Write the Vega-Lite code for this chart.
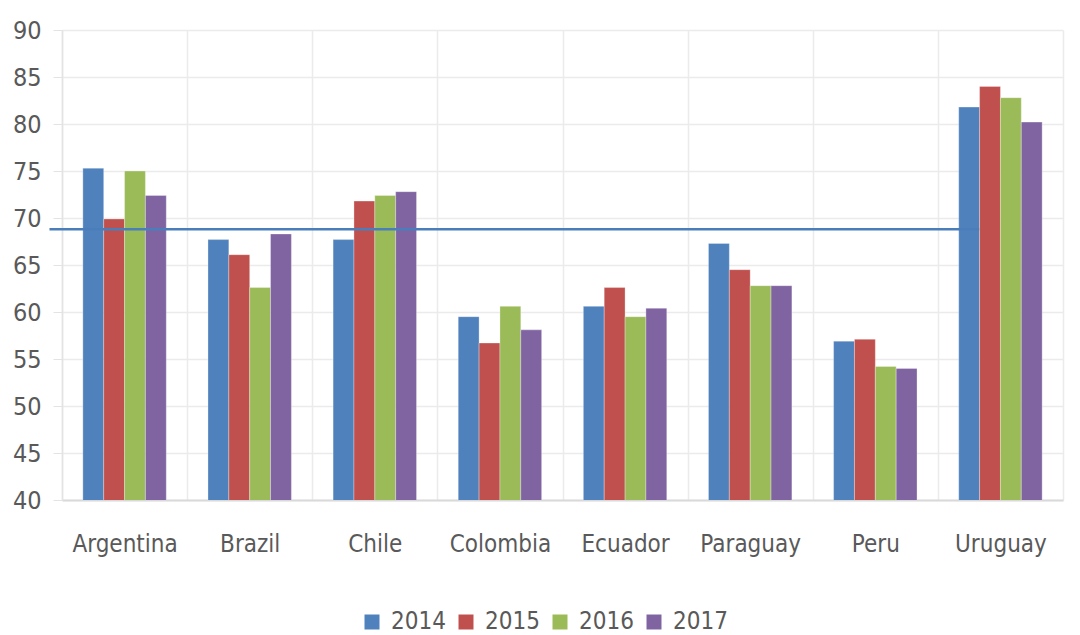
{
  "$schema": "https://vega.github.io/schema/vega-lite/v6.json",
  "width": 1001,
  "height": 470,
  "autosize": "none",
  "padding": {"left": 62, "top": 30, "right": 17, "bottom": 135},
  "background": "white",
  "config": {
    "view": {"stroke": null},
    "font": "DejaVu Sans Condensed",
    "axis": {"labelFont": "DejaVu Sans Condensed", "labelColor": "#595959", "labelFontSize": 24, "gridColor": "#ebebeb", "gridWidth": 1.5, "title": null}
  },
  "datasets": {
    "bars": [
      {"country": "Argentina", "year": "2014", "value": 75.3},
      {"country": "Argentina", "year": "2015", "value": 69.9},
      {"country": "Argentina", "year": "2016", "value": 75.0},
      {"country": "Argentina", "year": "2017", "value": 72.4},
      {"country": "Brazil", "year": "2014", "value": 67.7},
      {"country": "Brazil", "year": "2015", "value": 66.1},
      {"country": "Brazil", "year": "2016", "value": 62.6},
      {"country": "Brazil", "year": "2017", "value": 68.3},
      {"country": "Chile", "year": "2014", "value": 67.7},
      {"country": "Chile", "year": "2015", "value": 71.8},
      {"country": "Chile", "year": "2016", "value": 72.4},
      {"country": "Chile", "year": "2017", "value": 72.8},
      {"country": "Colombia", "year": "2014", "value": 59.5},
      {"country": "Colombia", "year": "2015", "value": 56.7},
      {"country": "Colombia", "year": "2016", "value": 60.6},
      {"country": "Colombia", "year": "2017", "value": 58.1},
      {"country": "Ecuador", "year": "2014", "value": 60.6},
      {"country": "Ecuador", "year": "2015", "value": 62.6},
      {"country": "Ecuador", "year": "2016", "value": 59.5},
      {"country": "Ecuador", "year": "2017", "value": 60.4},
      {"country": "Paraguay", "year": "2014", "value": 67.3},
      {"country": "Paraguay", "year": "2015", "value": 64.5},
      {"country": "Paraguay", "year": "2016", "value": 62.8},
      {"country": "Paraguay", "year": "2017", "value": 62.8},
      {"country": "Peru", "year": "2014", "value": 56.9},
      {"country": "Peru", "year": "2015", "value": 57.1},
      {"country": "Peru", "year": "2016", "value": 54.2},
      {"country": "Peru", "year": "2017", "value": 54.0},
      {"country": "Uruguay", "year": "2014", "value": 81.8},
      {"country": "Uruguay", "year": "2015", "value": 84.0},
      {"country": "Uruguay", "year": "2016", "value": 82.8},
      {"country": "Uruguay", "year": "2017", "value": 80.2}
    ],
    "ref": [{"level": 68.8, "from": "Argentina", "to": "Uruguay"}]
  },
  "layer": [
    {
      "data": {"name": "bars"},
      "mark": {"type": "bar", "clip": true, "stroke": "white", "strokeWidth": 0.5, "strokeOpacity": 0.6},
      "encoding": {
        "x": {
          "field": "country", "type": "nominal", "sort": null,
          "scale": {"paddingInner": 0, "paddingOuter": 0},
          "axis": {"labelAngle": 0, "ticks": false, "domainColor": "#d9d9d9", "domainWidth": 2, "grid": true, "tickBand": "extent", "labelPadding": 32, "labelBaseline": "top"}
        },
        "xOffset": {"field": "year", "type": "nominal", "scale": {"paddingInner": 0, "paddingOuter": 1.165}},
        "y": {
          "field": "value", "type": "quantitative",
          "scale": {"domain": [40, 90], "nice": false, "zero": false},
          "axis": {"values": [40,45,50,55,60,65,70,75,80,85,90], "tickSize": 9, "tickColor": "#e3e3e3", "domainColor": "#e3e3e3", "domainWidth": 1.5, "labelPadding": 12, "labelFontSize": 25}
        },
        "color": {
          "field": "year", "type": "nominal",
          "scale": {"domain": ["2014","2015","2016","2017"], "range": ["#4f81bd", "#c0504d", "#9bbb59", "#8064a2"]},
          "legend": {
            "title": null, "orient": "none", "direction": "horizontal", "legendX": 298, "legendY": 580,
            "symbolType": "square", "symbolSize": 225, "symbolStrokeWidth": 0, "symbolOpacity": 1,
            "labelFont": "DejaVu Sans Condensed", "labelFontSize": 24, "labelColor": "#595959", "labelOffset": 7, "columnPadding": 8
          }
        }
      }
    },
    {
      "data": {"name": "ref"},
      "mark": {"type": "rule", "color": "#4a7ebb", "strokeWidth": 2.5, "clip": false},
      "encoding": {
        "y": {"field": "level", "type": "quantitative"},
        "x": {"field": "from", "type": "nominal", "bandPosition": -0.1},
        "x2": {"field": "to", "bandPosition": 0.33}
      }
    }
  ]
}
